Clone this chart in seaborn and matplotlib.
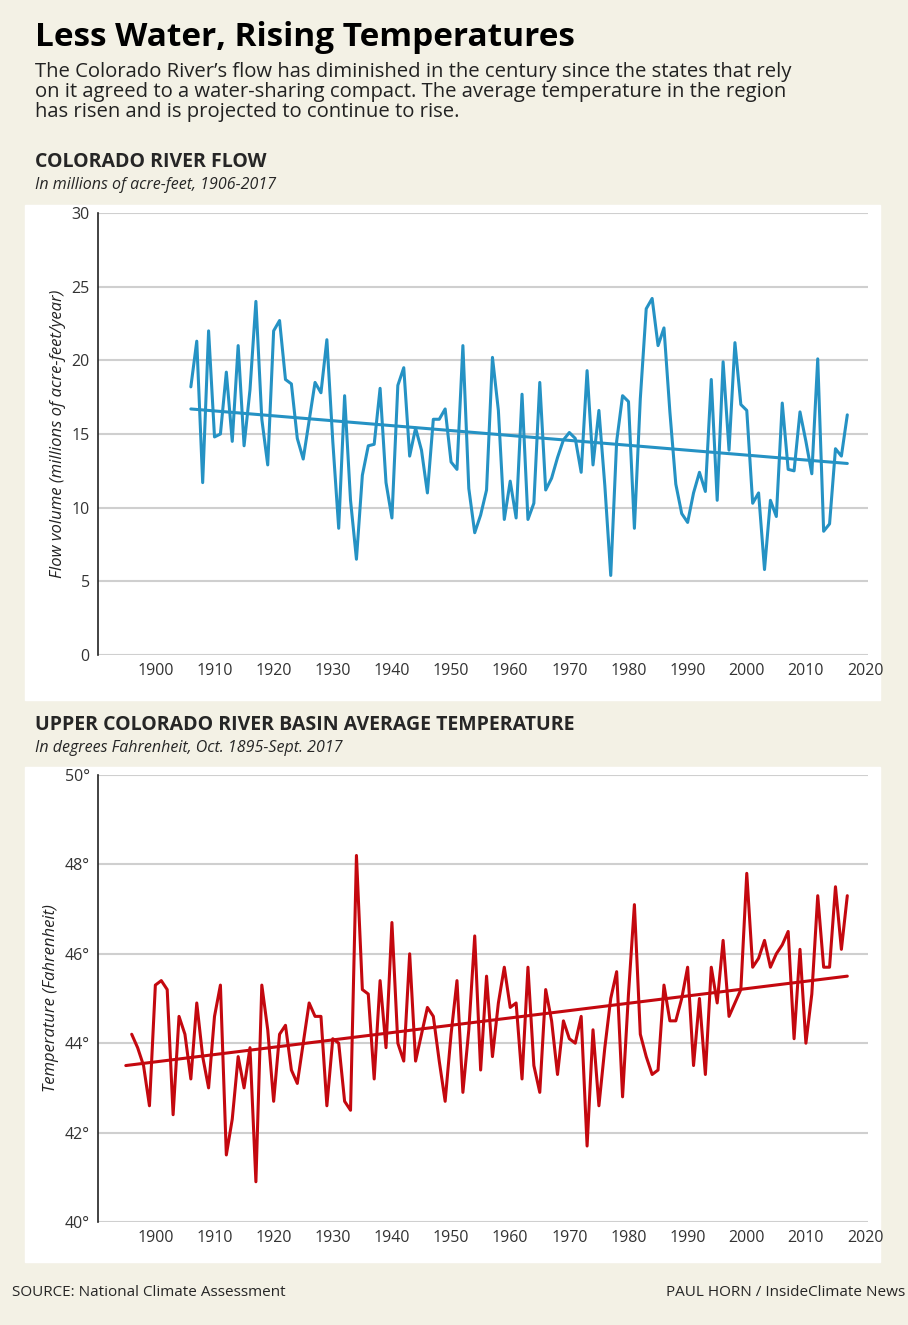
import numpy as np
import matplotlib
matplotlib.use("Agg")
import matplotlib.pyplot as plt
import seaborn as sns
import pandas as pd
from matplotlib.patches import Rectangle

# --- data ---
flow_years = list(range(1906, 2018))
flow = [18.2, 21.3, 11.7, 22.0, 14.8, 15.0, 19.2, 14.5, 21.0, 14.2,
        18.0, 24.0, 16.0, 12.9, 22.0, 22.7, 18.7, 18.4, 14.7, 13.3,
        15.9, 18.5, 17.8, 21.4, 14.5, 8.6, 17.6, 10.5, 6.5, 12.2,
        14.2, 14.3, 18.1, 11.7, 9.3, 18.3, 19.5, 13.5, 15.4, 13.9,
        11.0, 16.0, 16.0, 16.7, 13.1, 12.6, 21.0, 11.3, 8.3, 9.5,
        11.2, 20.2, 16.6, 9.2, 11.8, 9.3, 17.7, 9.2, 10.3, 18.5,
        11.2, 12.0, 13.4, 14.6, 15.1, 14.7, 12.4, 19.3, 12.9, 16.6,
        11.5, 5.4, 14.5, 17.6, 17.2, 8.6, 17.4, 23.5, 24.2, 21.0,
        22.2, 16.5, 11.6, 9.6, 9.0, 11.0, 12.4, 11.1, 18.7, 10.5,
        19.9, 13.9, 21.2, 17.0, 16.6, 10.3, 11.0, 5.8, 10.5, 9.4,
        17.1, 12.6, 12.5, 16.5, 14.5, 12.3, 20.1, 8.4, 8.9, 14.0,
        13.5, 16.3]
flow_trend_years = [1906, 2017]
flow_trend = [16.7, 13.0]

temp = [44.2, 43.9, 43.5, 42.6, 45.3, 45.4, 45.2, 42.4, 44.6, 44.2,
        43.2, 44.9, 43.7, 43.0, 44.6, 45.3, 41.5, 42.3, 43.7, 43.0,
        43.9, 40.9, 45.3, 44.3, 42.7, 44.2, 44.4, 43.4, 43.1, 44.0,
        44.9, 44.6, 44.6, 42.6, 44.1, 44.0, 42.7, 42.5, 48.2, 45.2,
        45.1, 43.2, 45.4, 43.9, 46.7, 44.0, 43.6, 46.0, 43.6, 44.2,
        44.8, 44.6, 43.6, 42.7, 44.2, 45.4, 42.9, 44.3, 46.4, 43.4,
        45.5, 43.7, 44.9, 45.7, 44.8, 44.9, 43.2, 45.7, 43.5, 42.9,
        45.2, 44.5, 43.3, 44.5, 44.1, 44.0, 44.6, 41.7, 44.3, 42.6,
        43.9, 45.0, 45.6, 42.8, 45.1, 47.1, 44.2, 43.7, 43.3, 43.4,
        45.3, 44.5, 44.5, 45.0, 45.7, 43.5, 45.0, 43.3, 45.7, 44.9,
        46.3, 44.6, 44.9, 45.2, 47.8, 45.7, 45.9, 46.3, 45.7, 46.0,
        46.2, 46.5, 44.1, 46.1, 44.0, 45.1, 47.3, 45.7, 45.7, 47.5,
        46.1, 47.3]
temp_years = list(range(2017 - len(temp) + 1, 2018))
temp_trend_years = [1895, 2017]
temp_trend = [43.5, 45.5]

xticks = list(range(1900, 2021, 10))

# --- figure ---
sns.set_style("white")
plt.rcParams['font.family'] = ['Open Sans', 'DejaVu Sans']
BG = '#f3f1e5'
BLUE = '#2592c4'
RED = '#c4080f'

fig = plt.figure(figsize=(9.08, 13.25), dpi=100, facecolor=BG)
for top in (205, 767):
    fig.patches.append(Rectangle((25/908, 1-(top+495)/1325), 855/908, 495/1325,
                                 transform=fig.transFigure, color='white', zorder=-5))

fig.text(35/908, 1-38/1325, "Less Water, Rising Temperatures", fontsize=24,
         fontweight='bold', va='center', color='black')
fig.text(35/908, 1-62/1325,
         "The Colorado River\u2019s flow has diminished in the century since the states that rely\n"
         "on it agreed to a water-sharing compact. The average temperature in the region\n"
         "has risen and is projected to continue to rise.",
         fontsize=14.6, va='top', color='#222222', linespacing=1.0)


def panel(rect, x, y, tx, ty, color, ylim, yticks, ylabels, ylabel, title, sub, ty0):
    ax = fig.add_axes(rect)
    ax.set_facecolor('white')
    df = pd.DataFrame({'year': x, 'v': y})
    sns.lineplot(data=df, x='year', y='v', color=color, lw=2.2, ax=ax)
    sns.lineplot(x=tx, y=ty, color=color, lw=2.2, ax=ax)
    ax.set_xlim(1890.3, 2020.5)
    ax.set_ylim(*ylim)
    ax.set_yticks(yticks)
    ax.set_yticklabels(ylabels)
    ax.set_xticks(xticks)
    ax.tick_params(axis='both', labelsize=11.5, length=0, colors='#333333', pad=6)
    ax.grid(axis='y', color='#cfcfcf', lw=1.5)
    for s in ['top', 'right', 'bottom']:
        ax.spines[s].set_visible(False)
    ax.spines['left'].set_color('#222222')
    ax.spines['left'].set_linewidth(1.2)
    ax.set_xlabel('')
    ax.set_ylabel(ylabel, fontsize=12, style='italic', color='#222222')
    fig.text(35/908, 1-ty0/1325, title, fontsize=14, fontweight='bold', va='center')
    fig.text(35/908, 1-(ty0+23)/1325, sub, fontsize=11.5, style='italic', va='center')
    return ax


panel([98/908, 1-655/1325, 770/908, 442/1325], flow_years, flow,
      flow_trend_years, flow_trend, BLUE, (0, 30), [0, 5, 10, 15, 20, 25, 30],
      ['0', '5', '10', '15', '20', '25', '30'],
      'Flow volume (millions of acre-feet/year)',
      'COLORADO RIVER FLOW', 'In millions of acre-feet, 1906-2017', 162)

panel([98/908, 1-1222/1325, 770/908, 447/1325], temp_years, temp,
      temp_trend_years, temp_trend, RED, (40, 50), [40, 42, 44, 46, 48, 50],
      ['40\u00b0', '42\u00b0', '44\u00b0', '46\u00b0', '48\u00b0', '50\u00b0'],
      'Temperature (Fahrenheit)',
      'UPPER COLORADO RIVER BASIN AVERAGE TEMPERATURE',
      'In degrees Fahrenheit, Oct. 1895-Sept. 2017', 725)

fig.text(12/908, 1-1293/1325, "SOURCE: National Climate Assessment", fontsize=11, va='center')
fig.text(905/908, 1-1293/1325, "PAUL HORN / InsideClimate News", fontsize=11,
         va='center', ha='right')

fig.savefig('out.png', dpi=100, facecolor=BG)
